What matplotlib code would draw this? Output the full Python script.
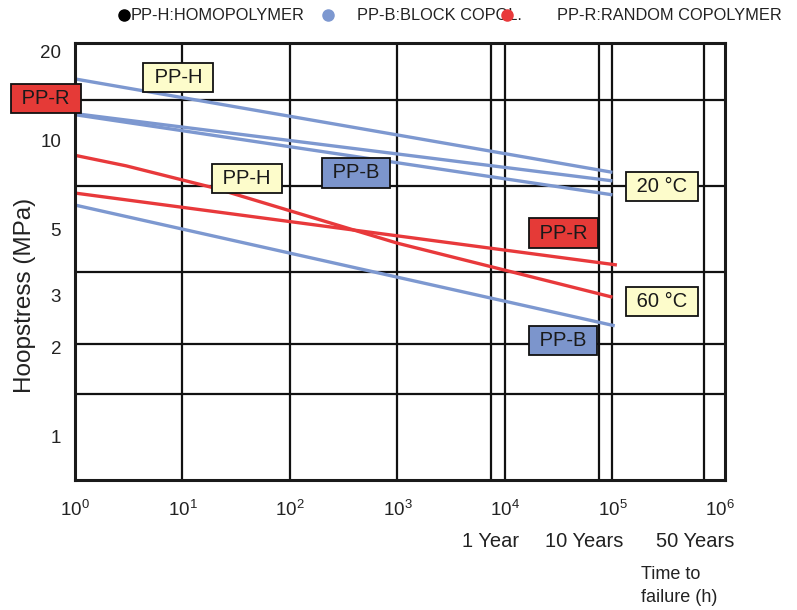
import numpy as np
import matplotlib
matplotlib.use("Agg")
import matplotlib.pyplot as plt
from matplotlib.lines import Line2D

plt.rcParams["font.family"] = ["Liberation Sans", "DejaVu Sans"]
plt.rcParams["mathtext.fontset"] = "custom"
plt.rcParams["mathtext.rm"] = "Liberation Sans"
plt.rcParams["mathtext.it"] = "Liberation Sans:italic"

# curves: time to failure (h) vs hoop stress (MPa)
t_h20 = [1, 1e5]
s_h20 = [16.1, 7.8]
t_b20a = [1, 1e5]
s_b20a = [12.3, 7.3]
t_b20b = [1, 1e5]
s_b20b = [12.2, 6.55]
t_h60 = [1, 3, 20, 1e3, 1e5]
s_h60 = [8.9, 8.2, 6.9, 4.5, 2.96]
t_r60 = [1, 1.1e5]
s_r60 = [6.64, 3.8]
t_b60 = [1, 1.05e5]
s_b60 = [6.05, 2.37]

# grid lines as drawn in the original
decade_lines = [1e1, 1e2, 1e3, 1e4, 1e5]
year_lines = [7.4e3, 7.5e4, 7.1e5]
year_label_x = [7.4e3, 5.5e4, 5.85e5]
year_labels = ["1 Year", "10 Years", "50 Years"]
stress_lines = [1.4, 2.05, 3.6, 7.0, 13.7]

xticks = [1e0, 1e1, 1e2, 1e3, 1e4, 1e5, 1e6]
yticks = [1, 2, 3, 5, 10, 20]

# boxed labels: (text, x, y, face colour)
labels = [
    ("PP-H", 9.1, 16.3, "#fdfccb"),
    ("PP-R", 0.537, 13.8, "#e53a37"),
    ("PP-H", 39.8, 7.41, "#fdfccb"),
    ("PP-B", 411, 7.76, "#7c95cc"),
    ("20 °C", 2.88e5, 7.01, "#fdfccb"),
    ("PP-R", 3.5e4, 4.87, "#e53a37"),
    ("60 °C", 2.88e5, 2.87, "#fdfccb"),
    ("PP-B", 3.47e4, 2.12, "#7c95cc"),
]

blue = "#7d98d0"
red = "#e8393b"

fig = plt.figure(figsize=(7.97, 6.10), dpi=100)
ax = fig.add_axes([75/797, 130/610, 650/797, 437/610])
ax.set_xscale("log")
ax.set_yscale("log")
ax.set_xlim(1, 10**6.047)
ax.set_ylim(10**-0.145, 10**1.328)

for x in decade_lines + year_lines:
    ax.axvline(x, color="#111111", lw=1.6, zorder=1)
for y in stress_lines:
    ax.axhline(y, color="#111111", lw=1.6, zorder=1)

for t, s, c in [(t_h20, s_h20, blue), (t_b20a, s_b20a, blue), (t_b20b, s_b20b, blue),
                (t_h60, s_h60, red), (t_r60, s_r60, red), (t_b60, s_b60, blue)]:
    ax.plot(t, s, color=c, lw=2.4, solid_capstyle="butt", zorder=2)

for txt, x, y, fc in labels:
    ax.text(x, y, " " + txt + " ", fontsize=14.5, ha="center", va="center", color="#1a1a1a",
            zorder=5, clip_on=False,
            bbox=dict(boxstyle="square,pad=0.25", fc=fc, ec="#111111", lw=1.3))

ax.set_xticks(xticks)
ax.set_xticklabels([r"$\mathregular{10^{%d}}$" % i for i in range(len(xticks))], fontsize=13.5, color="#222222")
ax.set_yticks(yticks)
ax.set_yticklabels([str(v) for v in yticks], fontsize=13.5, color="#222222")
ax.minorticks_off()
ax.tick_params(axis="x", length=0, pad=14)
ax.tick_params(axis="y", length=0, pad=10)
for sp in ax.spines.values():
    sp.set_linewidth(2.2)
    sp.set_color("#1a1a1a")

for x, lab in zip(year_label_x, year_labels):
    ax.text(x, -0.14, lab, transform=ax.get_xaxis_transform(), ha="center", va="center",
            fontsize=14.5, color="#222222")

fig.text(641/797, 0.040, "Time to\nfailure (h)", ha="left", va="center", fontsize=13,
         color="#222222", linespacing=1.45)
fig.text(25/797, 0.516, "Hoopstress (MPa)", rotation=90, ha="center", va="center",
         fontsize=17.5, color="#222222")

# legend row on top
leg_text = [("PP-H:HOMOPOLYMER", 131), ("PP-B:BLOCK COPOL.", 357), ("PP-R:RANDOM COPOLYMER", 557)]
for txt, x in leg_text:
    fig.text(x/797, 0.975, txt, ha="left", va="center", fontsize=11.8, color="#222222")
for x, c in [(124, "black"), (328, blue), (507, red)]:
    fig.add_artist(Line2D([x/797], [0.975], marker="o", markersize=8, color=c, ls="none", zorder=10))

fig.savefig("out.png", dpi=100)
